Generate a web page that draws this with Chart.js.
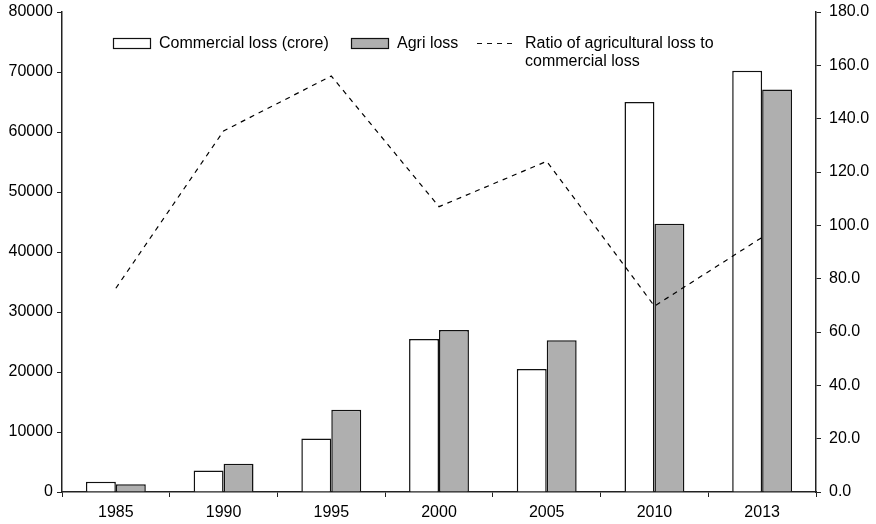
<!DOCTYPE html>
<html>
<head>
<meta charset="utf-8">
<title>Commercial vs agricultural loss</title>
<script src="https://cdn.jsdelivr.net/npm/chart.js"></script>
<style>
  body { margin: 0; background: #fff; }
  #wrap { position: relative; width: 876px; height: 524px; }
</style>
</head>
<body>
<div id="wrap"><canvas id="lossChart"></canvas></div>
<script>
    // data
    const years = ['1985', '1990', '1995', '2000', '2005', '2010', '2013'];
    const commercialLoss = [1700, 3600, 8900, 25500, 20500, 65000, 70200];
    const agriLoss = [1300, 4700, 13700, 27000, 25300, 44700, 67100];
    const lossRatio = [76.4, 135.4, 156.0, 107.0, 124.0, 69.7, 95.5];

    const legendNames = ['Commercial loss (crore)', 'Agri loss', ['Ratio of agricultural loss to', 'commercial loss']];

    const FONT = '16px "Liberation Sans", Arial, sans-serif';
    const GREY = '#afafaf';

    // legend drawn by hand, the original puts it inside the plot area
    const handLegend = {
        id: 'handLegend',
        afterDraw(chart) {
            const c = chart.ctx;
            c.save();
            c.font = FONT;
            c.fillStyle = '#000';
            c.textBaseline = 'middle';
            c.lineWidth = 1.2;
            c.strokeStyle = '#111';

            c.fillStyle = '#fff';
            c.fillRect(113, 38, 37, 10);
            c.strokeRect(113.5, 38.5, 37, 10);
            c.fillStyle = '#000';
            c.fillText(legendNames[0], 159, 44);

            c.fillStyle = GREY;
            c.fillRect(351, 38, 37, 10);
            c.strokeRect(351.5, 38.5, 37, 10);
            c.fillStyle = '#000';
            c.fillText(legendNames[1], 397, 44);

            c.setLineDash([5, 5]);
            c.beginPath();
            c.moveTo(477, 43.5);
            c.lineTo(514, 43.5);
            c.stroke();
            c.setLineDash([]);
            c.fillText(legendNames[2][0], 525, 44);
            c.fillText(legendNames[2][1], 525, 62);
            c.restore();
        }
    };

    // fixed axis sizes so the plot area sits where the original one does
    function fixWidth(w) {
        return s => { s.width = w; s.paddingTop = 0; s.paddingBottom = 0; };
    }

    const ctx = document.getElementById('lossChart').getContext('2d');
    new Chart(ctx, {
        type: 'bar',
        data: {
            labels: years,
            datasets: [
                {
                    label: legendNames[0],
                    data: commercialLoss,
                    backgroundColor: '#fff',
                    borderColor: '#111',
                    borderWidth: 1.5,
                    categoryPercentage: 0.556,
                    barPercentage: 1.0,
                    yAxisID: 'y',
                    order: 1
                },
                {
                    label: legendNames[1],
                    data: agriLoss,
                    backgroundColor: GREY,
                    borderColor: '#111',
                    borderWidth: 1.5,
                    categoryPercentage: 0.556,
                    barPercentage: 1.0,
                    yAxisID: 'y',
                    order: 1
                },
                {
                    type: 'line',
                    label: 'Ratio of agricultural loss to commercial loss',
                    data: lossRatio,
                    borderColor: '#000',
                    borderWidth: 1.2,
                    borderDash: [5, 5],
                    pointRadius: 0,
                    tension: 0,
                    fill: false,
                    yAxisID: 'y1',
                    order: 0
                }
            ]
        },
        options: {
            responsive: true,
            maintainAspectRatio: false,
            animation: false,
            layout: { padding: { top: 12, right: 0, bottom: 0, left: 0 } },
            plugins: {
                legend: { display: false },
                tooltip: { enabled: false }
            },
            scales: {
                x: {
                    offset: true,
                    grid: { display: true, drawOnChartArea: false, drawTicks: true, tickLength: 5, color: '#222', offset: true },
                    border: { display: true, color: '#222', width: 1.5 },
                    ticks: { color: '#000', font: { family: '"Liberation Sans", Arial, sans-serif', size: 16 }, padding: 6, maxRotation: 0 },
                    afterFit: s => { s.height = 32; s.paddingLeft = 0; s.paddingRight = 0; }
                },
                y: {
                    position: 'left',
                    min: 0, max: 80000,
                    grid: { display: true, drawOnChartArea: false, drawTicks: true, tickLength: 5, color: '#222' },
                    border: { display: true, color: '#222', width: 1.5 },
                    ticks: {
                        stepSize: 10000, color: '#000', padding: 4,
                        font: { family: '"Liberation Sans", Arial, sans-serif', size: 16 },
                        callback: v => String(v)
                    },
                    afterFit: fixWidth(62)
                },
                y1: {
                    position: 'right',
                    min: 0, max: 180,
                    grid: { display: true, drawOnChartArea: false, drawTicks: true, tickLength: 5, color: '#222' },
                    border: { display: true, color: '#222', width: 1.5 },
                    ticks: {
                        stepSize: 20, color: '#000', padding: 8,
                        font: { family: '"Liberation Sans", Arial, sans-serif', size: 16 },
                        callback: v => v.toFixed(1)
                    },
                    afterFit: fixWidth(60)
                }
            }
        },
        plugins: [handLegend]
    });
</script>
</body>
</html>
